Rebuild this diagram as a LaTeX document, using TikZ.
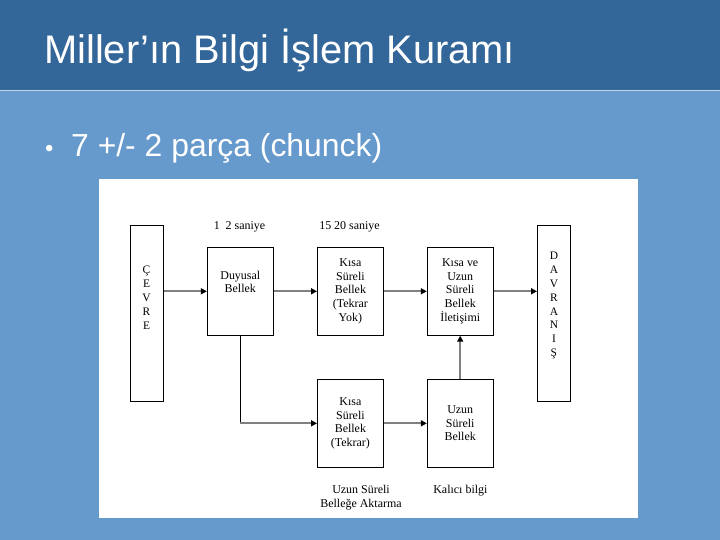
\documentclass[tikz,border=0pt]{standalone}
\usepackage{fontspec}
\setmainfont{Liberation Serif}
\newfontfamily\slidefont{Liberation Sans}
\usetikzlibrary{arrows.meta}
\definecolor{titleblue}{RGB}{51,102,153}
\definecolor{slideblue}{RGB}{102,153,204}
\definecolor{flowgray}{RGB}{128,128,128}

\begin{document}
\begin{tikzpicture}[x=1bp,y=-1bp,
  box/.style={draw=black, line width=0.8bp, minimum width=66bp, minimum height=88bp,
    inner sep=0pt, align=center, font=\fontsize{12}{13.7}\selectfont},
  tallbox/.style={draw=black, line width=0.8bp, minimum width=33bp, minimum height=176bp, inner sep=0pt},
  letters/.style={align=center, inner sep=0pt, font=\fontsize{11.5}{14}\selectfont},
  note/.style={align=center, inner sep=0pt, font=\fontsize{12}{14}\selectfont},
  flow/.style={draw=flowgray, line width=2bp, -{Triangle[black,length=6bp,width=6bp]}}]
  \useasboundingbox (0,0) rectangle (720,540);
  % slide
  \fill[slideblue] (0,0) rectangle (720,540);
  \fill[titleblue] (0,0) rectangle (720,90);
  \draw[white!60!slideblue, line width=1bp] (0,90.5) -- (720,90.5);
  \node[anchor=base west, inner sep=0pt, text=white, font=\slidefont\fontsize{40}{42}\selectfont]
    (title) at (44,64) {Miller’ın Bilgi İşlem Kuramı};
  \node[anchor=base west, inner sep=0pt, text=white, font=\slidefont\fontsize{24}{26}\selectfont]
    (bullet) at (45,156.7) {•};
  \node[anchor=base west, inner sep=0pt, text=white, font=\slidefont\fontsize{32}{34}\selectfont]
    (point) at (71,156.7) {7 +/- 2 parça (chunck)};
  \fill[white] (99,179) rectangle (637.7,518.3);

  % boxes
  \node[tallbox] (cevre) at (146.9,313.3) {};
  \node[letters] (cevretxt) at (146.5,298) {Ç\\E\\V\\R\\E};
  \node[box] (duyusal) at (240.3,291.3) {Duyusal\\Bellek\\[5bp]};
  \node[box] (kisaust) at (350.4,291.3) {Kısa\\Süreli\\Bellek\\(Tekrar\\Yok)};
  \node[box] (kisauzun) at (460.2,291.3) {Kısa ve\\Uzun\\Süreli\\Bellek\\İletişimi};
  \node[tallbox] (davranis) at (553.9,313.3) {};
  \node[letters] (davranistxt) at (553.9,305.5) {D\\A\\V\\R\\A\\N\\I\\Ş};
  \node[box] (kisaalt) at (350.4,423.3) {Kısa\\Süreli\\Bellek\\(Tekrar)};
  \node[box] (uzun) at (460.2,423.3) {Uzun\\Süreli\\Bellek};

  % labels
  \node[note] (sure1) at (239.5,227.3) {1\ \ 2 saniye};
  \node[note] (sure2) at (349.5,227.3) {15 20 saniye};
  \node[note] (aktarma) at (361,497.7) {Uzun Süreli\\Belleğe Aktarma};
  \node[note] (kalici) at (460.4,490.7) {Kalıcı bilgi};

  % arrows
  \draw[flow] (duyusal -| cevre.east) -- (duyusal.west);
  \draw[flow] (duyusal) -- (kisaust);
  \draw[flow] (kisaust) -- (kisauzun);
  \draw[flow] (kisauzun.east) -- (kisauzun -| davranis.west);
  \coordinate (kose) at (duyusal |- kisaalt);
  \draw[black, line width=0.8bp] (duyusal.south) -- (kose);
  \draw[flow] (kose) -- (kisaalt.west);
  \draw[flow] (kisaalt) -- (uzun);
  \draw[flow] (uzun) -- (kisauzun);
\end{tikzpicture}
\end{document}
